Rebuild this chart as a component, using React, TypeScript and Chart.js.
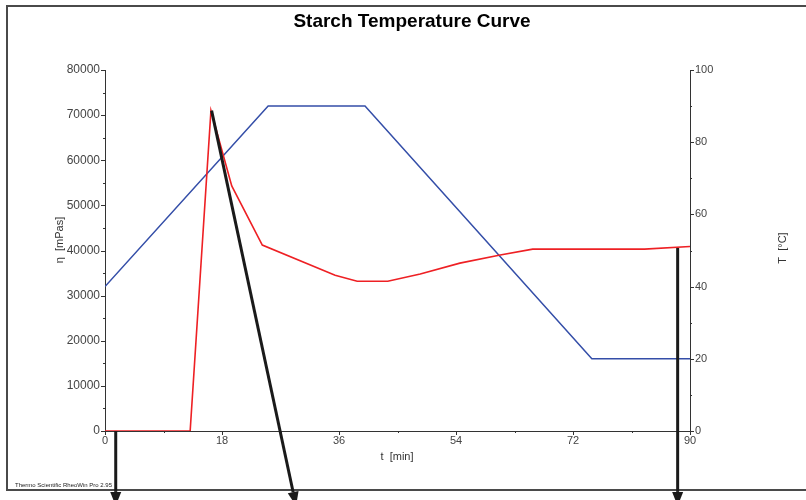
import React, { useEffect, useRef } from 'react';
import { Chart, registerables } from 'chart.js';

Chart.register(...registerables);

// Viscosity (red, left axis)
const timeEta = [0, 13.1, 16.3, 19.5, 24.2, 35.4, 38.8, 43.5, 48.5, 54.6, 60.8, 65.8, 83, 90];
const etaValues = [0, 0, 71000, 54300, 41200, 34500, 33200, 33200, 34800, 37200, 39000, 40300, 40300, 40900];

// Temperature (blue, right axis)
const timeTemp = [0, 25.1, 40, 74.9, 90];
const tempValues = [40, 90, 90, 20, 20];

const xMajor = [0, 18, 36, 54, 72, 90];
const xMinor = [9, 27, 45, 63, 81];
const etaMajor = [0, 10000, 20000, 30000, 40000, 50000, 60000, 70000, 80000];
const etaMinor = [5000, 15000, 25000, 35000, 45000, 55000, 65000, 75000];
const tempMajor = [0, 20, 40, 60, 80, 100];
const tempMinor = [10, 30, 50, 70, 90];

// Annotation arrows in data coordinates (t, eta)
const arrowFromT = [1.65, 16.4, 88.1];
const arrowFromEta = [0, 71000, 40550];
const arrowToT = [1.65, 29.4, 88.1];
const arrowToEta = [-16600, -16600, -16600];

const TITLE = 'Starch Temperature Curve';
const FOOTER = 'Thermo Scientific RheoWin Pro 2.95';
const FONT = '"Liberation Sans", Arial, sans-serif';

const plain = (v: any) => String(v);

const decorPlugin = {
  id: 'decor',
  beforeDraw(chart: any) {
    const ctx = chart.ctx;
    ctx.save();
    ctx.fillStyle = '#ffffff';
    ctx.fillRect(0, 0, chart.width, chart.height);
    ctx.strokeStyle = '#4a4a4a';
    ctx.lineWidth = 2;
    ctx.strokeRect(7, 6, 820, 484);
    ctx.fillStyle = '#000';
    ctx.font = 'bold 19px ' + FONT;
    ctx.textAlign = 'center';
    ctx.textBaseline = 'middle';
    ctx.fillText(TITLE, 412, 22);
    ctx.font = '6px ' + FONT;
    ctx.textAlign = 'left';
    ctx.fillStyle = '#222';
    ctx.fillText(FOOTER, 15, 485);
    // axis titles
    ctx.fillStyle = '#333';
    ctx.font = '11px ' + FONT;
    ctx.textAlign = 'center';
    ctx.fillText('t  [min]', 397, 457);
    ctx.save();
    ctx.translate(60, 240);
    ctx.rotate(-Math.PI / 2);
    ctx.fillText('\u03B7  [mPas]', 0, 0);
    ctx.restore();
    ctx.save();
    ctx.translate(783, 248);
    ctx.rotate(-Math.PI / 2);
    ctx.fillText('T  [\u00B0C]', 0, 0);
    ctx.restore();
    ctx.restore();
  },
  beforeDatasetsDraw(chart: any) {
    const ctx = chart.ctx;
    const x = chart.scales.x;
    const y = chart.scales.y;
    const y1 = chart.scales.y1;
    const { left, right, top, bottom } = chart.chartArea;
    ctx.save();
    ctx.strokeStyle = '#333';
    ctx.lineWidth = 1;
    ctx.beginPath();
    ctx.moveTo(left + 0.5, top);
    ctx.lineTo(left + 0.5, bottom + 0.5);
    ctx.lineTo(right + 0.5, bottom + 0.5);
    ctx.moveTo(right + 0.5, top);
    ctx.lineTo(right + 0.5, bottom + 0.5);
    etaMajor.forEach((v) => {
      const p = Math.round(y.getPixelForValue(v)) + 0.5;
      ctx.moveTo(left - 4, p);
      ctx.lineTo(left + 0.5, p);
    });
    etaMinor.forEach((v) => {
      const p = Math.round(y.getPixelForValue(v)) + 0.5;
      ctx.moveTo(left - 2, p);
      ctx.lineTo(left + 0.5, p);
    });
    tempMajor.forEach((v) => {
      const p = Math.round(y1.getPixelForValue(v)) + 0.5;
      ctx.moveTo(right, p);
      ctx.lineTo(right + 4, p);
    });
    tempMinor.forEach((v) => {
      const p = Math.round(y1.getPixelForValue(v)) + 0.5;
      ctx.moveTo(right, p);
      ctx.lineTo(right + 2, p);
    });
    xMajor.forEach((v) => {
      const p = Math.round(x.getPixelForValue(v)) + 0.5;
      ctx.moveTo(p, bottom);
      ctx.lineTo(p, bottom + 4);
    });
    xMinor.forEach((v) => {
      const p = Math.round(x.getPixelForValue(v)) + 0.5;
      ctx.moveTo(p, bottom);
      ctx.lineTo(p, bottom + 2);
    });
    ctx.stroke();
    ctx.restore();
  },
  afterDraw(chart: any) {
    const ctx = chart.ctx;
    const x = chart.scales.x;
    const y = chart.scales.y;
    ctx.save();
    ctx.strokeStyle = '#1a1a1a';
    ctx.fillStyle = '#1a1a1a';
    ctx.lineWidth = 3;
    for (let i = 0; i < arrowFromT.length; i++) {
      const x0 = x.getPixelForValue(arrowFromT[i]);
      const y0 = y.getPixelForValue(arrowFromEta[i]);
      const x1 = x.getPixelForValue(arrowToT[i]);
      const y1 = y.getPixelForValue(arrowToEta[i]);
      const ang = Math.atan2(y1 - y0, x1 - x0);
      const headLen = 14;
      const headW = 5.5;
      const bx = x1 - headLen * Math.cos(ang);
      const by = y1 - headLen * Math.sin(ang);
      ctx.beginPath();
      ctx.moveTo(x0, y0);
      ctx.lineTo(bx, by);
      ctx.stroke();
      ctx.beginPath();
      ctx.moveTo(x1, y1);
      ctx.lineTo(bx + headW * Math.sin(ang), by - headW * Math.cos(ang));
      ctx.lineTo(bx - headW * Math.sin(ang), by + headW * Math.cos(ang));
      ctx.closePath();
      ctx.fill();
    }
    ctx.restore();
  },
};

export default function App() {
  const ref = useRef<HTMLCanvasElement | null>(null);
  useEffect(() => {
    if (!ref.current) return;
    const chart = new Chart(ref.current, {
      type: 'line',
      data: {
        datasets: [
          {
            label: 'eta',
            data: timeEta.map((t, i) => ({ x: t, y: etaValues[i] })),
            borderColor: 'rgb(238,32,36)',
            borderWidth: 1.6,
            pointRadius: 0,
            tension: 0,
            yAxisID: 'y',
          },
          {
            label: 'T',
            data: timeTemp.map((t, i) => ({ x: t, y: tempValues[i] })),
            borderColor: 'rgb(52,78,168)',
            borderWidth: 1.5,
            pointRadius: 0,
            tension: 0,
            yAxisID: 'y1',
          },
        ],
      },
      options: {
        responsive: false,
        animation: false,
        layout: { padding: { top: 70, left: 0, right: 0, bottom: 0 } },
        plugins: { legend: { display: false }, title: { display: false }, tooltip: { enabled: false } },
        scales: {
          x: {
            type: 'linear',
            min: 0,
            max: 90,
            afterFit: (s: any) => { s.height = 69; },
            afterBuildTicks: (s: any) => { s.ticks = xMajor.map((v) => ({ value: v })); },
            grid: { display: false, drawTicks: false },
            border: { display: false },
            ticks: { padding: 3, color: '#444', font: { family: FONT, size: 11 }, maxRotation: 0, autoSkip: false, callback: plain },
          },
          y: {
            type: 'linear',
            position: 'left',
            min: 0,
            max: 80000,
            afterFit: (s: any) => { s.width = 105; },
            afterBuildTicks: (s: any) => { s.ticks = etaMajor.map((v) => ({ value: v })); },
            grid: { display: false, drawTicks: false },
            border: { display: false },
            ticks: { padding: 5, color: '#444', font: { family: FONT, size: 12 }, autoSkip: false, callback: plain },
          },
          y1: {
            type: 'linear',
            position: 'right',
            min: 0,
            max: 100,
            afterFit: (s: any) => { s.width = 116; },
            afterBuildTicks: (s: any) => { s.ticks = tempMajor.map((v) => ({ value: v })); },
            grid: { display: false, drawTicks: false },
            border: { display: false },
            ticks: { padding: 5, color: '#444', font: { family: FONT, size: 11 }, autoSkip: false, callback: plain },
          },
        },
      },
      plugins: [decorPlugin],
    } as any);
    return () => chart.destroy();
  }, []);
  return (
    <div style={{ position: 'fixed', left: 0, top: 0, width: 806, height: 500, background: '#fff' }}>
      <canvas ref={ref} width={806} height={500} style={{ width: 806, height: 500, display: 'block' }} />
    </div>
  );
}
